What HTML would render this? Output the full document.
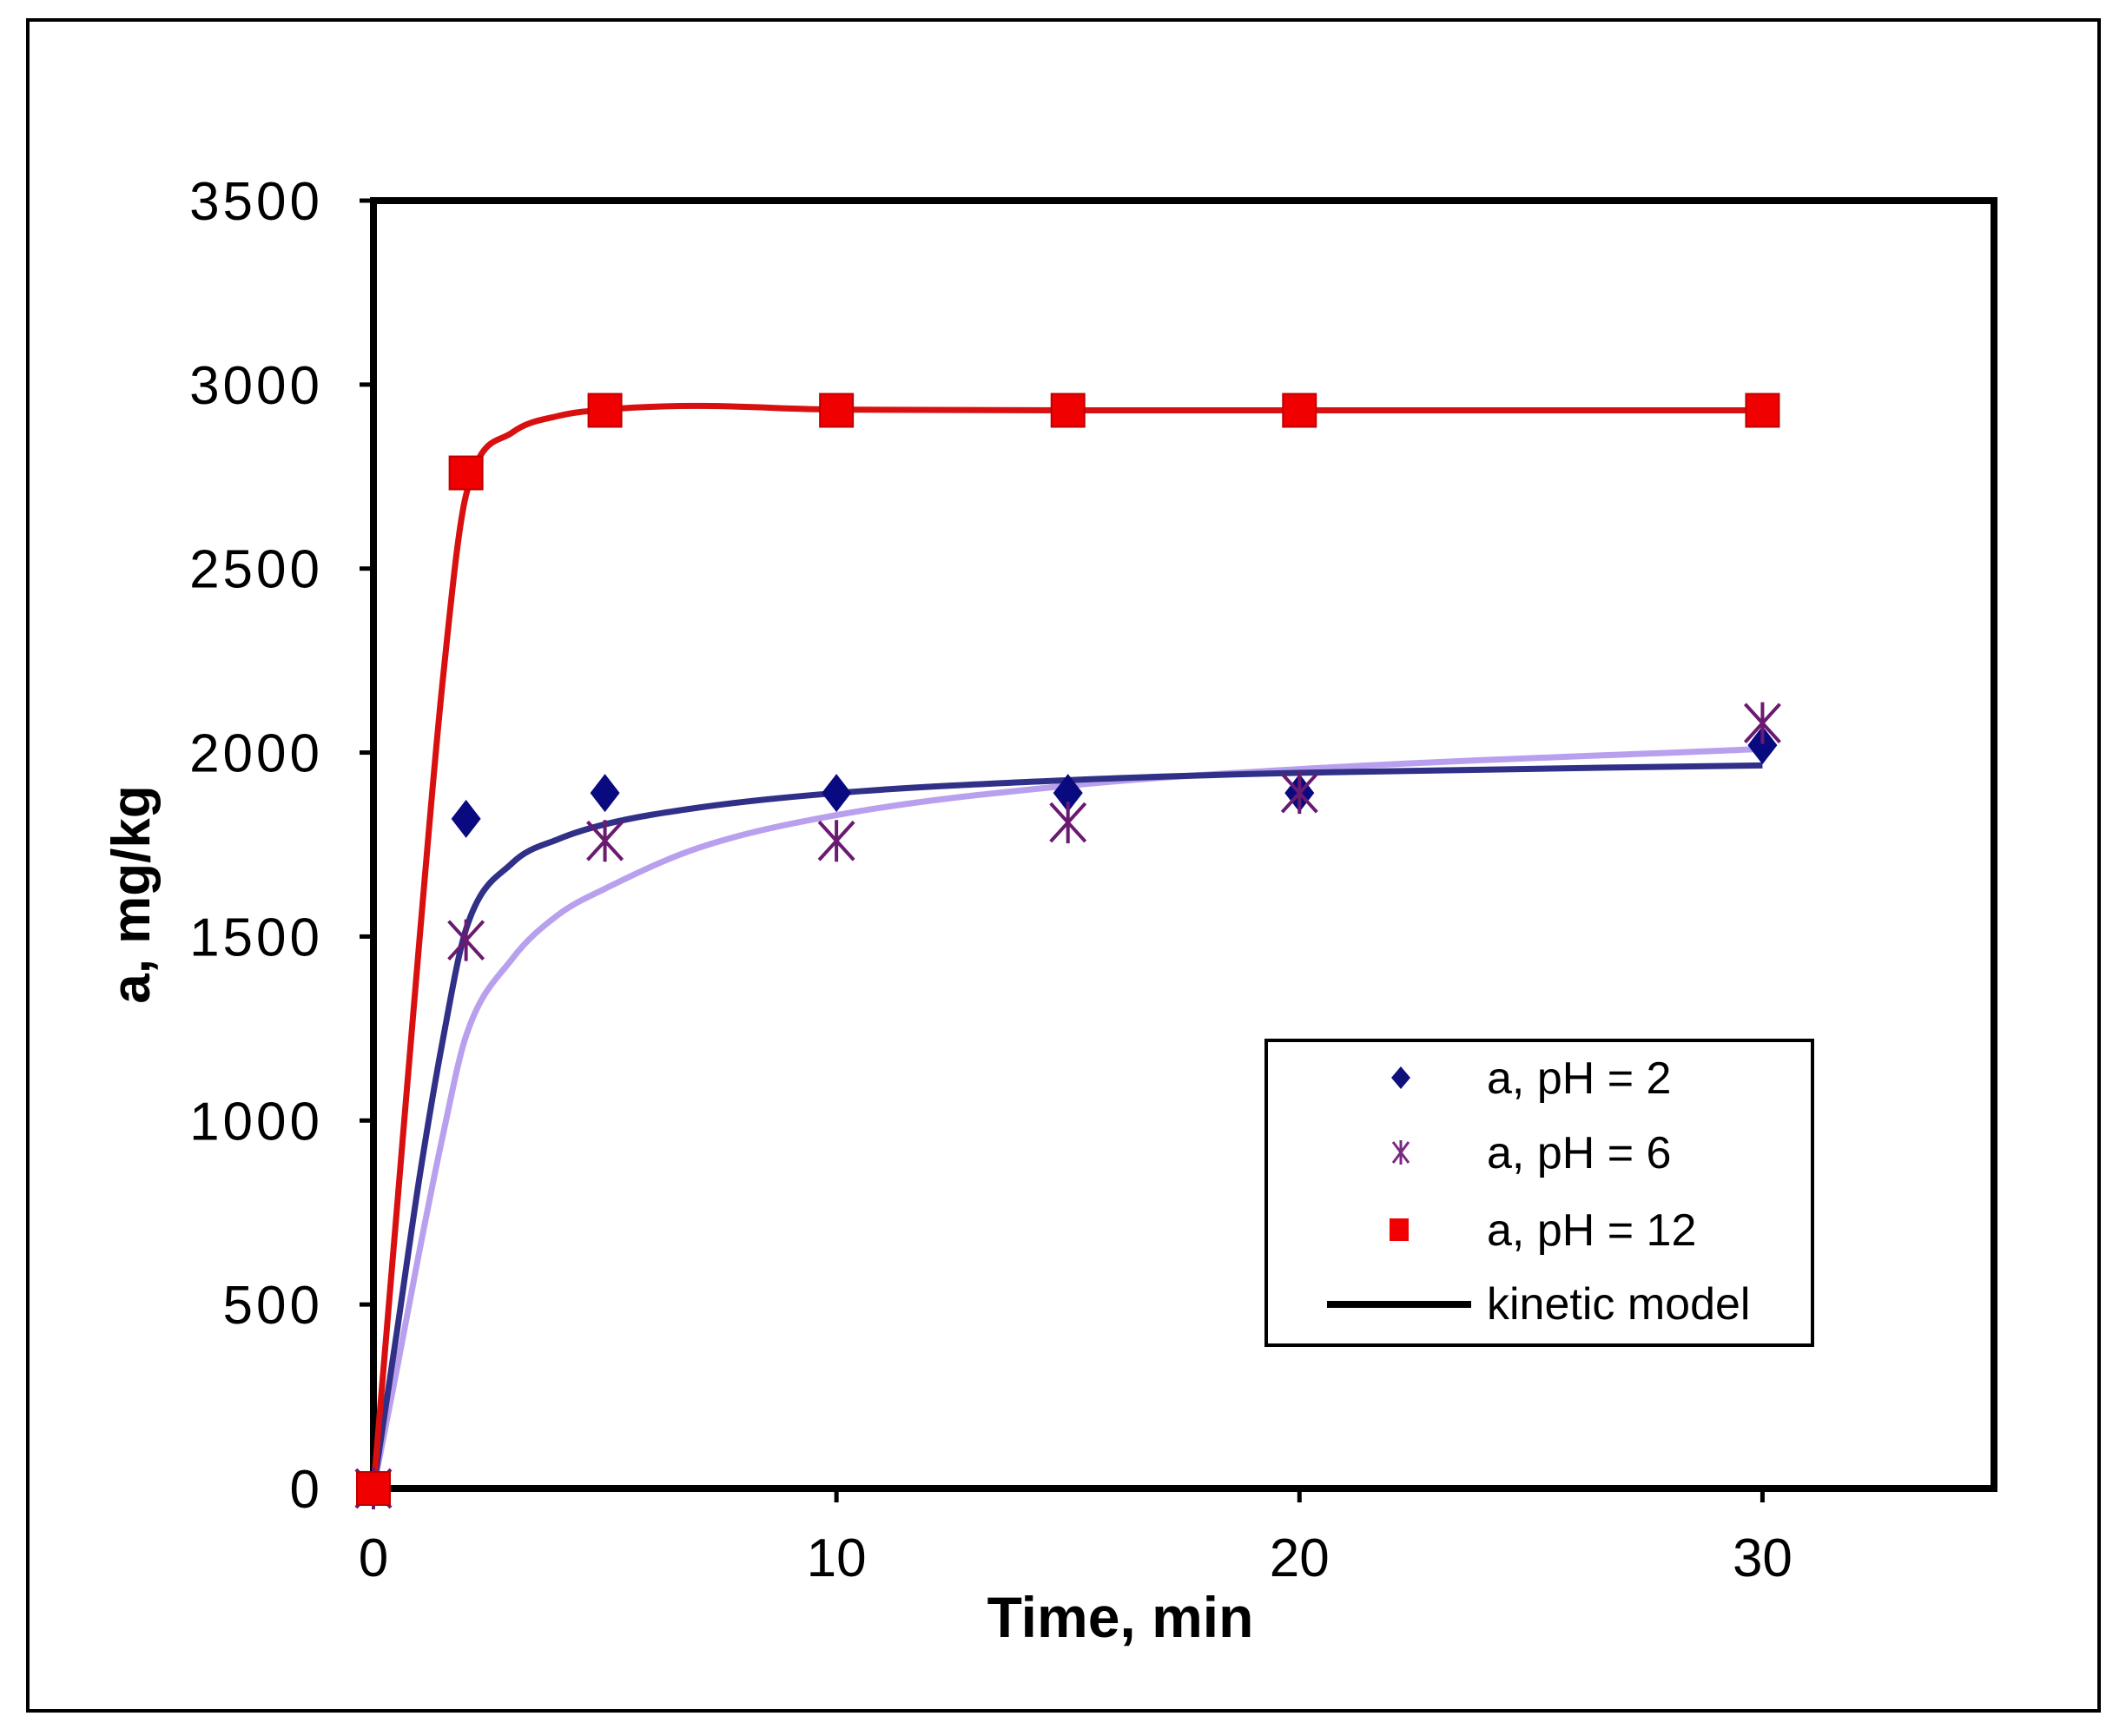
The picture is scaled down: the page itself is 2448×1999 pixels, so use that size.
<!DOCTYPE html>
<html><head><meta charset="utf-8"><style>
html,body{margin:0;padding:0;background:#fff;}
svg{display:block;}
text{font-family:"Liberation Sans",Arial,sans-serif;}
</style></head><body>
<svg id="chart" width="2448" height="1999" viewBox="0 0 2448 1999">
<rect x="32" y="23" width="2385" height="1947" fill="#fff" stroke="#000" stroke-width="4"/>
<g id="grid"></g>
<g id="series"></g>
<text x="1290" y="1885" text-anchor="middle" font-size="66" font-weight="bold">Time, min</text>
<text transform="translate(172,1030) rotate(-90)" text-anchor="middle" font-size="62" font-weight="bold">a, mg/kg</text>
<g>
<rect x="1458" y="1198" width="629" height="351" fill="#fff" stroke="#000" stroke-width="4"/>
<path d="M1613 1228 L1624 1241 L1613 1254 L1602 1241 Z" fill="#10107a"/>
<text x="1712" y="1259" font-size="52">a, pH = 2</text>
<path d="M1604 1315 L1622 1339 M1622 1315 L1604 1339 M1613 1313 L1613 1341" stroke="#7a2a80" stroke-width="3"/>
<text x="1712" y="1345" font-size="52">a, pH = 6</text>
<rect x="1600" y="1403" width="22" height="26" fill="#f00000"/>
<text x="1712" y="1434" font-size="52">a, pH = 12</text>
<line x1="1528" y1="1502" x2="1694" y2="1502" stroke="#000" stroke-width="8"/>
<text x="1712" y="1519" font-size="52">kinetic model</text>
</g>
</svg>
<script>
const xTicks=[0,10,20,30];
const yTicks=[0,500,1000,1500,2000,2500,3000,3500];
const times=[0,2,5,10,15,20,30];
const ph2=[0,1820,1890,1890,1890,1890,2020];
const ph6=[0,1490,1760,1760,1810,1890,2080];
const ph12=[0,2760,2930,2930,2930,2930,2930];
const modelT=[0,0.5,1,1.5,2,3,4,5,7,10,15,20,30];
const model12=[0,750,1500,2200,2700,2870,2915,2932,2942,2932,2930,2930,2930];
const model2=[0,420,850,1220,1520,1700,1765,1805,1850,1890,1925,1945,1965];
const model6=[0,320,650,960,1230,1440,1560,1630,1740,1830,1910,1955,2010];
const X0=430,X1=2296,Y0=1714,Y1=231,XMAX=35,YMAX=3500;
const sx=v=>X0+(X1-X0)*v/XMAX, sy=v=>Y0-(Y0-Y1)*v/YMAX;
const NS='http://www.w3.org/2000/svg';
function mk(tag,attrs,parent){const e=document.createElementNS(NS,tag);for(const k in attrs)e.setAttribute(k,attrs[k]);parent.appendChild(e);return e;}
const g=document.getElementById('grid'), s=document.getElementById('series');
yTicks.forEach(v=>{
 const t=mk('line',{x1:X0-16,x2:X0,y1:sy(v),y2:sy(v),stroke:'#000','stroke-width':5},g);
 
 
 const l=mk('text',{x:372,y:sy(v)+22,'text-anchor':'end','font-size':62,'letter-spacing':'4'},g);
 l.textContent=v;
 
 
});
xTicks.forEach(v=>{
 const t=mk('line',{x1:sx(v),x2:sx(v),y1:Y0,y2:Y0+16,stroke:'#000','stroke-width':5},g);
 
 
 const l=mk('text',{x:sx(v),y:1815,'text-anchor':'middle','font-size':62},g);
 l.textContent=v;
 
 
});
const fr=mk('rect',{x:X0,y:Y1,width:X1-X0,height:Y0-Y1,fill:'none',stroke:'#000','stroke-width':8},g);


function curve(ts,vs){
 const xs=ts.map(sx), ys=vs.map(sy), n=xs.length;
 const dl=[];for(let i=0;i<n-1;i++)dl.push((ys[i+1]-ys[i])/(xs[i+1]-xs[i]));
 const m=[dl[0]];
 for(let i=1;i<n-1;i++){m.push(dl[i-1]*dl[i]<=0?0:(dl[i-1]+dl[i])/2);}
 m.push(dl[n-2]);
 for(let i=0;i<n-1;i++){
  if(dl[i]===0){m[i]=0;m[i+1]=0;continue;}
  const a=m[i]/dl[i],b=m[i+1]/dl[i],h=a*a+b*b;
  if(h>9){const t=3/Math.sqrt(h);m[i]=t*a*dl[i];m[i+1]=t*b*dl[i];}
 }
 let d='M'+xs[0]+' '+ys[0];
 for(let i=0;i<n-1;i++){
  const h=(xs[i+1]-xs[i])/3;
  d+=' C'+(xs[i]+h)+' '+(ys[i]+m[i]*h)+' '+(xs[i+1]-h)+' '+(ys[i+1]-m[i+1]*h)+' '+xs[i+1]+' '+ys[i+1];
 }
 return d;
}
const m6=mk('path',{d:curve(modelT,model6),fill:'none',stroke:'#b9a0ee','stroke-width':7},s);


const m2=mk('path',{d:curve(modelT,model2),fill:'none',stroke:'#303088','stroke-width':7},s);


const m12=mk('path',{d:curve(modelT,model12),fill:'none',stroke:'#d81010','stroke-width':7},s);


times.forEach((t,i)=>{
 const x=sx(t),y=sy(ph2[i]);
 const d=mk('path',{d:`M${x} ${y-22} L${x+17} ${y} L${x} ${y+22} L${x-17} ${y} Z`,fill:'#0a0a80'},s);
 
 
});
times.forEach((t,i)=>{
 const x=sx(t),y=sy(ph6[i]);
 const d=mk('path',{d:`M${x-20} ${y-22} L${x+20} ${y+22} M${x+20} ${y-22} L${x-20} ${y+22} M${x} ${y-24} L${x} ${y+24}`,stroke:'#6a1a70','stroke-width':4},s);
 
 
});
times.forEach((t,i)=>{
 const x=sx(t),y=sy(ph12[i]);
 const d=mk('rect',{x:x-19,y:y-19,width:38,height:38,fill:'#f00000',stroke:'#c00000','stroke-width':2},s);
 
 
});
</script>
</body></html>
